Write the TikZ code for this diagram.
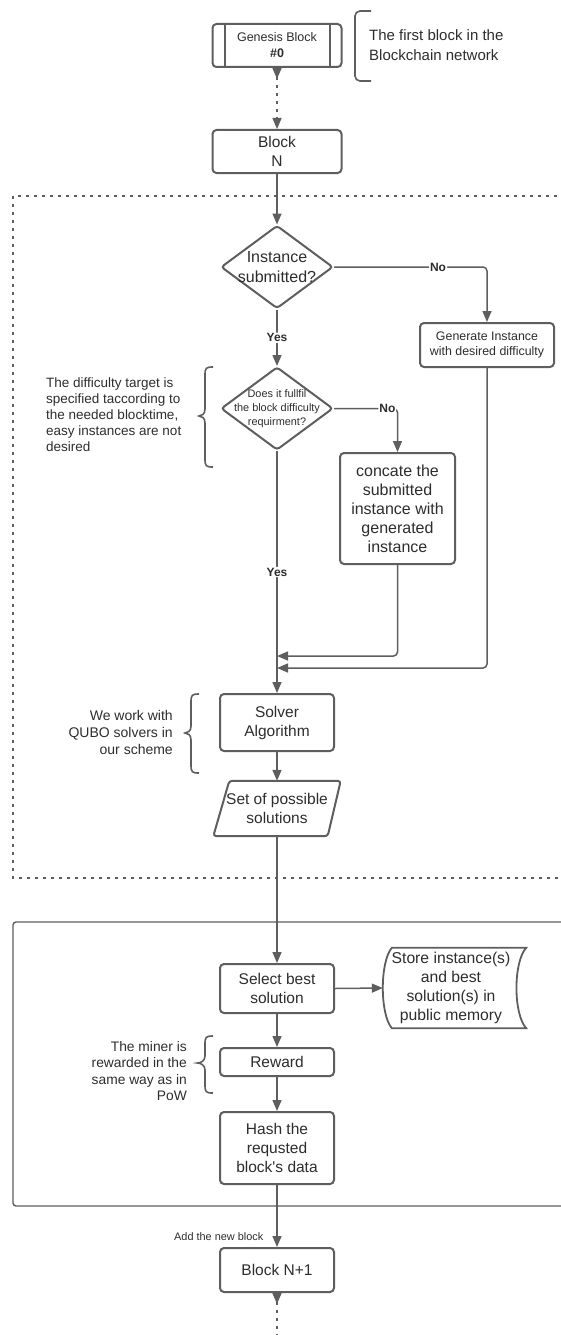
\documentclass[tikz,border=0pt]{standalone}
\usepackage{fontspec}
\setmainfont{Liberation Sans}
\usetikzlibrary{arrows.meta,shapes.geometric,calc}
\definecolor{linec}{RGB}{94,94,94}
\definecolor{txtc}{RGB}{45,45,45}
\newcommand{\setfs}[2]{\fontsize{#1}{#2}\selectfont}
% left curly brace: end x, spine x, tip x, top y, tip y, bottom y
\newcommand{\leftcurl}[6]{%
  \draw[bracec] (#1,#4) .. controls ($(#2,#4)+(1,0)$) and (#2,#4+1) .. (#2,#4+8)
    -- (#2,#5-7) .. controls (#2,#5-2) and (#3+3,#5) .. (#3,#5)
    .. controls (#3+3,#5) and (#2,#5+2) .. (#2,#5+7)
    -- (#2,#6-8) .. controls (#2,#6-1) and ($(#2,#6)+(1,0)$) .. (#1,#6);}
\tikzset{
  box/.style={draw=linec, line width=2pt, rounded corners=4pt, fill=white,
    align=center, text=txtc, inner sep=0pt},
  dia/.style={diamond, draw=linec, line width=2pt, rounded corners=3pt, fill=white,
    inner sep=0pt, minimum width=112pt, minimum height=83pt},
  tip/.tip={Triangle[width=9pt,length=11pt]},
  conn/.style={draw=linec, line width=1.5pt, -tip, rounded corners=4pt},
  dotline/.style={draw=linec, line width=1.5pt, dash pattern=on 3pt off 5pt},
  lbl/.style={fill=white, text=txtc, font=\setfs{12}{14}\bfseries, inner sep=1pt},
  note/.style={text=txtc, inner sep=0pt},
  bracec/.style={draw=linec, line width=1.6pt},
}
\begin{document}
\begin{tikzpicture}[x=1pt, y=-1pt]
\useasboundingbox (0,0) rectangle (560,1335);

% group frames
\draw[draw=linec, line width=1.4pt, dash pattern=on 3pt off 5pt] (13,196) rectangle (575,878);
\draw[draw=linec, line width=1.4pt, rounded corners=3pt] (13,922) rectangle (575,1206);

% chain head
\node[box, minimum width=129pt, minimum height=43pt, font=\setfs{12.5}{16}] (g0) at (277,45.5)
  {Genesis Block\\\textbf{\#0}};
\draw[draw=linec, line width=2pt] ([xshift=13pt]g0.north west) -- ([xshift=13pt]g0.south west);
\draw[draw=linec, line width=2pt] ([xshift=-13pt]g0.north east) -- ([xshift=-13pt]g0.south east);
\draw[bracec, rounded corners=5pt] (371,11) -- (355,11) -- (355,81) -- (371,81);
\node[note, anchor=west, align=left, font=\setfs{15}{20}] (gnote) at (369,45)
  {The first block in the\\Blockchain network};

\node[box, minimum width=129pt, minimum height=43pt, font=\setfs{15.5}{19}] (bn) at (277,151.5)
  {Block\\N};

% instance handling
\node[dia] (d1) at (277,267) {};
\node[note, align=center, font=\setfs{16}{20}] (d1t) at (d1) {Instance\\submitted?};
\node[box, minimum width=134pt, minimum height=44pt, font=\setfs{12.4}{15}] (gen) at (487,345)
  {Generate Instance\\with desired difficulty};
\node[dia] (d2) at (277,408.5) {};
\node[note, align=center, font=\setfs{10.9}{14}] (d2t) at (d2)
  {Does it fullfil\\the block difficulty\\requirment?};
\leftcurl{213}{205}{199}{367}{416}{467}
\node[note, anchor=west, align=left, font=\setfs{13.5}{16}] (dnote) at (46,415)
  {The difficulty target is\\specified taccording to\\the needed blocktime,\\easy instances are not\\desired};
\node[box, minimum width=115pt, minimum height=111pt, font=\setfs{16}{19}] (cat) at (397.5,508.5)
  {concate the\\submitted\\instance with\\generated\\instance};

% solving
\node[box, minimum width=114pt, minimum height=57pt, font=\setfs{15.5}{19}] (sol) at (277,722.5)
  {Solver\\Algorithm};
\leftcurl{199}{191}{185}{694}{733}{773}
\node[note, anchor=east, align=right, font=\setfs{14}{17}] (qnote) at (173,732)
  {We work with\\QUBO solvers in\\our scheme};
\node[minimum width=127pt, minimum height=55pt, inner sep=0pt] (par) at (277,808.5) {};
\draw[draw=linec, line width=2pt, rounded corners=3pt]
  ($(par.north west)+(16,0)$) -- (par.north east) -- ($(par.south east)+(-13,0)$)
  -- (par.south west) -- cycle;
\node[note, align=center, font=\setfs{15.5}{19}] (part) at (par) {Set of possible\\solutions};

% block creation
\node[box, minimum width=114pt, minimum height=49pt, font=\setfs{15.5}{19}] (sel) at (277,988.5)
  {Select best\\solution};
\node[minimum width=143pt, minimum height=80pt, inner sep=0pt] (sto) at (454.5,988) {};
\draw[draw=linec, line width=1.8pt]
  ($(sto.north west)+(9,0)$) .. controls ($(sto.west)+(-3,-26)$) and ($(sto.west)+(-3,26)$)
  .. ($(sto.south west)+(9,0)$) -- (sto.south east)
  .. controls ($(sto.east)+(-13,26)$) and ($(sto.east)+(-13,-26)$) .. (sto.north east)
  -- cycle;
\node[note, align=center, font=\setfs{15.7}{19}] (stot) at (451,988)
  {Store instance(s)\\and best\\solution(s) in\\public memory};
\node[box, minimum width=114pt, minimum height=28pt, font=\setfs{15.5}{19}] (rew) at (277,1062)
  {Reward};
\leftcurl{213}{205}{197.5}{1036}{1063}{1093}
\node[note, anchor=east, align=right, font=\setfs{13.8}{16.5}] (mnote) at (187,1071)
  {The miner is\\rewarded in the\\same way as in\\PoW};
\node[box, minimum width=114pt, minimum height=72pt, font=\setfs{15.5}{19}] (hash) at (277,1148)
  {Hash the\\requsted\\block\textquotesingle s data};
\node[box, minimum width=114pt, minimum height=44pt, font=\setfs{15.5}{19}] (bn1) at (277,1270)
  {Block N+1};

% connectors
\coordinate (m1) at (277,656);
\coordinate (m2) at (277,668);
\coordinate (tail) at (277,1345);
\draw[dotline, {Triangle[reversed,width=9pt,length=11pt]}-tip] (g0.south) -- (bn.north);
\draw[conn] (bn.south) -- (d1.north);
\draw[conn] (d1.east) -- node[lbl, pos=0.68] {No} (d1.east -| gen.north) -- (gen.north);
\draw[conn] (d1.south) -- node[lbl] {Yes} (d2.north);
\draw[conn] (d2.east) -- node[lbl, pos=0.84] {No} (d2.east -| cat.north) -- (cat.north);
\draw[conn] (d2.south) -- node[lbl, pos=0.5] {Yes} (sol.north);
\draw[conn] (cat.south) |- (m1);
\draw[conn] (gen.south) |- (m2);
\draw[conn] (sol.south) -- (par.north);
\draw[conn] (par.south) -- (sel.north);
\draw[conn] (sel.east) -- (sto.west);
\draw[conn] (sel.south) -- (rew.north);
\draw[conn] (rew.south) -- (hash.north);
\draw[conn] (hash.south) -- node[note, pos=0.84, anchor=east, xshift=-13pt, font=\setfs{10.9}{13}] {Add the new block} (bn1.north);
\draw[dotline, {Triangle[reversed,width=9pt,length=11pt]}-] (bn1.south) -- (tail);
\end{tikzpicture}
\end{document}
